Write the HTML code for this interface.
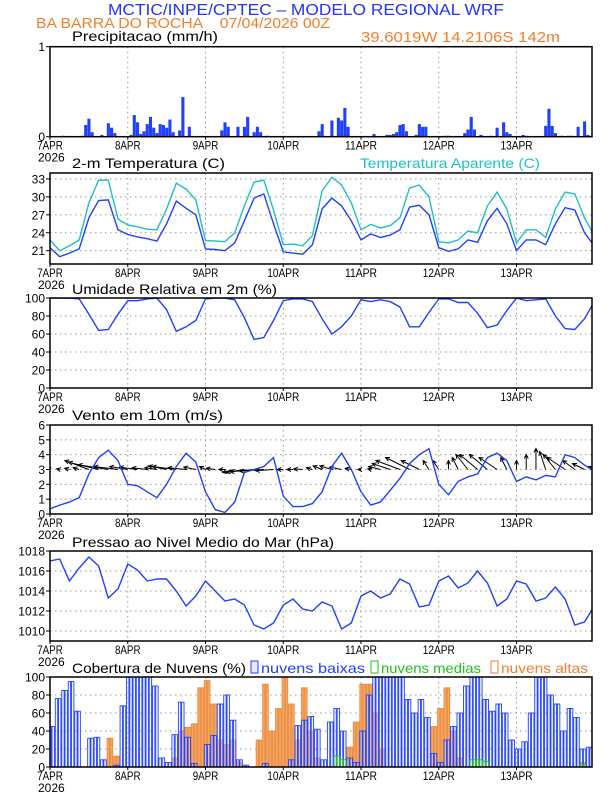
<!DOCTYPE html>
<html><head><meta charset="utf-8"><style>
html,body{margin:0;padding:0;background:#fff;width:612px;height:792px;overflow:hidden}
svg{display:block;font-family:"Liberation Sans",sans-serif}
</style></head><body>
<svg id="chart" width="612" height="792" viewBox="0 0 612 792" xmlns="http://www.w3.org/2000/svg">
<text x="108" y="15" font-size="16" fill="#2233ff" textLength="396" lengthAdjust="spacingAndGlyphs">MCTIC/INPE/CPTEC – MODELO REGIONAL WRF</text>
<text x="36" y="28" font-size="15" fill="#f08030" textLength="294" lengthAdjust="spacingAndGlyphs" xml:space="preserve">BA BARRA DO ROCHA    07/04/2026 00Z</text>
<text x="361" y="42" font-size="15" fill="#f08030" textLength="199" lengthAdjust="spacingAndGlyphs">39.6019W 14.2106S 142m</text>
<text x="72" y="41" font-size="14" fill="#000" textLength="146" lengthAdjust="spacingAndGlyphs">Precipitacao (mm/h)</text>
<text x="72" y="168" font-size="14" fill="#000" textLength="153" lengthAdjust="spacingAndGlyphs">2-m Temperatura (C)</text>
<text x="360" y="168" font-size="14" fill="#20c0c0" textLength="180" lengthAdjust="spacingAndGlyphs">Temperatura Aparente (C)</text>
<text x="72" y="294" font-size="14" fill="#000" textLength="205" lengthAdjust="spacingAndGlyphs">Umidade Relativa em 2m (%)</text>
<text x="72" y="420" font-size="14" fill="#000" textLength="151" lengthAdjust="spacingAndGlyphs">Vento em 10m (m/s)</text>
<text x="72" y="547" font-size="14" fill="#000" textLength="262" lengthAdjust="spacingAndGlyphs">Pressao ao Nivel Medio do Mar (hPa)</text>
<text x="72" y="673" font-size="14" fill="#000" textLength="174" lengthAdjust="spacingAndGlyphs">Cobertura de Nuvens (%)</text>
<g><rect x="251" y="661" width="7" height="12" fill="#e4eaff" stroke="#2040ff"/><text x="261" y="673" font-size="14" fill="#2040ff" textLength="104" lengthAdjust="spacingAndGlyphs">nuvens baixas</text></g>
<g><rect x="371" y="661" width="7" height="12" fill="none" stroke="#20c020"/><text x="381" y="673" font-size="14" fill="#20c020" textLength="100" lengthAdjust="spacingAndGlyphs">nuvens medias</text></g>
<g><rect x="491" y="661" width="7" height="12" fill="none" stroke="#f08030"/><text x="501" y="673" font-size="14" fill="#f08030" textLength="87" lengthAdjust="spacingAndGlyphs">nuvens altas</text></g>
<g id="plots"></g>
</svg>
<script>
// ---- data (hourly from 07/04 00Z) ----
const dayLabels = ["7APR","8APR","9APR","10APR","11APR","12APR","13APR"];
const precip = [
0,0,0,0,0.01,0,0,0,0,0,0.01,0.13,0.2,0.05,0,0,0.02,0,0.15,0.1,0.04,0,0,0,
0,0.02,0.24,0.16,0.03,0.06,0.14,0.22,0.1,0.04,0.14,0.13,0.1,0.19,0.05,0,0.07,0.44,0,0.11,0,0,0,0,
0,0,0,0,0,0.07,0.16,0.11,0,0,0.11,0,0.11,0.22,0,0.05,0.11,0.05,0,0.01,0,0,0,0,
0,0,0,0,0,0,0,0,0,0,0,0.06,0.14,0,0,0.18,0,0.21,0.18,0.32,0.11,0,0,0,
0,0,0,0,0.03,0,0,0,0.02,0.02,0.03,0.05,0.13,0.14,0.06,0,0,0.02,0.14,0.11,0.11,0,0,0,
0,0,0.01,0.01,0,0,0,0,0.04,0.08,0.22,0.08,0,0.02,0,0,0.01,0,0.1,0,0.16,0.05,0.03,0,
0,0,0.02,0.01,0,0,0,0,0,0.12,0.31,0.12,0.04,0,0.01,0,0.01,0.01,0,0.11,0,0.17,0.02,0];
// 3-hourly series
const temp = [21.5,20.0,20.6,21.3,26.5,29.4,29.5,24.5, 23.7,23.3,23.0,22.6,25.5,29.3,28.1,27.0, 21.3,21.2,21.0,22.3,26.0,29.8,30.5,25.5, 20.8,20.6,20.4,22.0,28.0,29.8,28.5,26.0, 22.8,23.8,23.2,23.6,24.5,28.3,28.6,27.0, 21.5,20.9,21.3,22.8,22.4,26.0,28.1,25.5, 21.0,22.8,22.8,22.0,25.5,28.2,27.8,24.0,21.8];
const appTemp = [22.8,21.0,21.8,22.8,29.0,32.8,32.8,26.3, 25.3,25.0,24.6,24.5,28.0,32.3,31.3,29.5, 22.7,22.6,22.5,24.0,28.5,32.5,32.8,27.8, 22.0,22.1,21.8,23.5,31.0,33.3,32.0,29.0, 24.5,25.4,24.8,25.2,26.5,31.5,32.0,30.0, 22.5,22.3,22.8,24.3,24.0,28.5,30.8,28.0, 22.3,24.5,24.5,23.2,28.0,30.8,30.5,26.5,23.5];
const rh = [100,100,100,99,82,64,65,82, 97,97,99,100,87,63,68,75, 99,100,100,98,78,54,56,75, 97,99,99,96,77,60,68,80, 98,96,98,96,90,68,68,84, 99,99,95,95,83,67,70,86, 100,97,98,99,80,66,65,77,96];
const windSpeed = [0.35,0.6,0.8,1.1,2.7,3.8,4.3,3.6, 2.0,1.9,1.5,1.1,2.0,3.2,4.1,3.5, 1.5,0.3,0.1,0.8,2.8,3.0,3.2,3.8, 1.2,0.5,0.5,0.7,1.5,3.2,4.1,3.0, 1.5,0.6,0.8,1.6,2.4,3.4,4.0,4.4, 2.0,1.3,2.2,2.5,2.7,3.8,4.1,3.6, 2.2,2.5,2.3,2.6,2.5,4.0,3.8,3.3,2.9];
const windU = [-0.5,-0.5,-0.8,-1,-4,-5,-5,-4, -3,-3,-2.5,-2,-3,-4,-3,-2, -1,-1.5,-1,-2,-3,-4,-4,-3, -1,-1,-1.5,-1,-1.5,-2,-2,-1, -0.5,-0.5,-2,-3,-4,-4,-3,-1, -1,0,-1,-2,-3,-3,-3,-1, 0,0,0,-1,-2,-3,-2,-2,-1];
const windV = [0.1,0.1,0.2,0.3,1.5,1.2,0.8,0.5, 0.5,0.4,0.3,0.3,0.6,0.5,0.3,0.4, 0.5,0.2,0,-0.5,-0.5,-0.4,-0.3,-0.2, 0,0,0.1,0.3,0.6,0.6,0.4,0.2, 0,0.1,0.5,1,1.5,2,1.5,1.5, 1.5,1.5,2,2.5,2.5,2.5,2,2, 1.5,2.5,3.5,3,2.5,2,1.5,1,0.5];
const pressure = [1017.0,1017.2,1015.0,1016.3,1017.4,1016.5,1013.3,1014.2, 1016.7,1016.1,1015.0,1015.2,1015.2,1014.0,1012.5,1013.5, 1015.0,1014.0,1013.0,1013.2,1012.6,1010.6,1010.2,1010.8, 1012.6,1013.2,1012.2,1012.0,1012.9,1012.5,1010.2,1010.8, 1013.5,1014.0,1013.3,1013.7,1015.2,1014.7,1012.4,1012.6, 1015.0,1015.5,1014.3,1014.8,1016.0,1014.8,1012.5,1013.2, 1015.0,1014.7,1013.0,1013.3,1014.4,1013.2,1010.6,1010.9,1012.5];
// 2-hourly cloud cover
const cloudLow = [45,76,85,95,62,0,32,33,8,0,2,68, 100,100,100,100,90,10,5,36,72,33,4,0, 25,35,70,80,52,8,2,0,0,4,0,0, 0,8,46,52,56,42,8,50,65,40,10,5, 40,80,100,100,100,100,100,75,60,75,55,15, 5,30,45,60,90,100,100,75,62,70,60,30, 20,28,60,100,100,80,70,40,65,55,20,22];
const cloudMid = [0,0,0,0,0,0,0,0,0,0,0,0, 0,0,0,0,0,0,0,0,0,0,0,0, 0,0,0,0,0,0,0,0,0,0,0,0, 0,0,0,0,0,0,0,0,12,8,0,0, 0,0,0,0,0,0,0,0,0,0,0,0, 0,0,0,0,0,8,8,6,0,0,0,0, 0,0,0,0,0,0,0,0,0,0,3,0];
const cloudHigh = [0,0,0,0,0,0,0,0,0,32,12,0, 0,0,0,0,0,0,0,10,40,44,48,88, 96,70,30,25,30,5,0,0,30,92,40,65, 100,70,30,88,40,10,0,0,0,0,22,50, 92,92,60,20,0,0,0,0,0,0,0,45, 65,88,40,10,0,0,0,0,0,0,0,0, 0,0,0,0,0,0,0,0,0,0,5,0];

const NS="http://www.w3.org/2000/svg";
const root=document.getElementById('plots');
const X0=50, X1=592, HPX=(X1-X0)/167.3;
function xH(h){return X0+h*HPX;}
function mk(tag,attrs,parent){const e=document.createElementNS(NS,tag);for(const k in attrs)e.setAttribute(k,attrs[k]);(parent||root).appendChild(e);return e;}
let clipN=0;
function panel(name,top,bot,vmin,vmax,ticks){
  const g=mk('g',{});
  
  
  const y=v=>bot-(v-vmin)/(vmax-vmin)*(bot-top);
  const id='c'+(clipN++);
  const cp=mk('clipPath',{id:id},g);mk('rect',{x:X0,y:top,width:X1-X0,height:bot-top},cp);
  for(let d=1;d<7;d++){const l=mk('line',{x1:xH(d*24),x2:xH(d*24),y1:top,y2:bot,stroke:'#999','stroke-dasharray':'1.5,3.5'},g);
    
    }
  ticks.forEach(t=>{
    if(t>vmin&&t<vmax){mk('line',{x1:X0,x2:X1,y1:y(t),y2:y(t),stroke:'#999','stroke-dasharray':'1.5,3.5'},g);}
    const tx=mk('text',{x:45,y:y(t)+4.5,'font-size':12,'text-anchor':'end',fill:'#000'},g);tx.textContent=t;
    
    
    mk('line',{x1:X0-4,x2:X0,y1:y(t),y2:y(t),stroke:'#000'},g);
  });
  dayLabels.forEach((lab,d)=>{
    const tx=mk('text',{x:xH(d*24),y:bot+13,'font-size':12,'text-anchor':'middle',fill:'#000',textLength:lab.length*6.4,lengthAdjust:'spacingAndGlyphs'},g);tx.textContent=lab;
    
    
    mk('line',{x1:xH(d*24),x2:xH(d*24),y1:bot,y2:bot+3,stroke:'#000'},g);
  });
  const yr=mk('text',{x:38,y:bot+25,'font-size':12,fill:'#000'},g);yr.textContent='2026';
  
  
  const inner=mk('g',{'clip-path':'url(#'+id+')'},g);
  return {g,inner,y,top,bot,frame:()=>{const r=mk('rect',{x:X0,y:top,width:X1-X0,height:bot-top,fill:'none',stroke:'#000','stroke-width':1.5},g);}};
}
function line(p,arr,step,color,name){
  const d=arr.map((v,i)=>(i?'L':'M')+xH(i*step).toFixed(1)+','+p.y(v).toFixed(1)).join('');
  const e=mk('path',{d:d,fill:'none',stroke:color,'stroke-width':1.4},p.inner);
  
  
}
// precipitation
const p1=panel('precip',46.7,136.7,0,1,[0,1]);
precip.forEach((v,h)=>{if(v<=0)return;
  const b=mk('rect',{x:xH(h)-1.5,y:p1.y(v),width:3.1,height:p1.y(0)-p1.y(v),fill:'#2040ff'},p1.inner);
  
  });
p1.frame();
// temperature
const p2=panel('temperature',173,264,18.77,34.0,[21,24,27,30,33]);
line(p2,appTemp,3,'#20c0c0','apparent-temp-line');
line(p2,temp,3,'#2040ff','temp-line');
p2.frame();
// humidity
const p3=panel('humidity',298,388,0,100,[0,20,40,60,80,100]);
line(p3,rh,3,'#2040ff','rh-line');
p3.frame();
// wind
const p4=panel('wind',425,514,0,6,[0,1,2,3,4,5,6]);
windU.forEach((u,i)=>{
  const x0=xH(i*3),y0=p4.y(3),x1=x0+u*6,y1=y0-windV[i]*6;
  const len=Math.hypot(x1-x0,y1-y0);if(len<0.5)return;
  const ux=(x1-x0)/len,uy=(y1-y0)/len;
  const a=mk('path',{d:`M${x0},${y0}L${x1},${y1}M${x1-ux*4-uy*2},${y1-uy*4+ux*2}L${x1},${y1}L${x1-ux*4+uy*2},${y1-uy*4-ux*2}`,stroke:'#000','stroke-width':1,fill:'none'},p4.inner);
  
  
});
line(p4,windSpeed,3,'#2040ff','wind-speed-line');
p4.frame();
// pressure
const p5=panel('pressure',551,641,1009,1018,[1010,1012,1014,1016,1018]);
line(p5,pressure,3,'#2040ff','pressure-line');
p5.frame();
// clouds
const p6=panel('clouds',677,767,0,100,[0,20,40,60,80,100]);
function bars(arr,fill,stroke,name){arr.forEach((v,i)=>{if(v<=0)return;
  for(let k=0;k<2;k++){
    const b=mk('rect',{x:xH(i*2+k)-1.2,y:p6.y(v),width:2.4,height:p6.y(0)-p6.y(v),fill:fill,stroke:stroke,'stroke-width':0.9},p6.inner);
    
    
  }});}
bars(cloudHigh,'#f4a868','#ec8a3c','high-cloud-bar');
bars(cloudLow,'rgba(225,232,255,0.35)','#2040ff','low-cloud-bar');
bars(cloudMid,'none','#20c020','mid-cloud-bar');
p6.frame();
</script>
</body></html>
